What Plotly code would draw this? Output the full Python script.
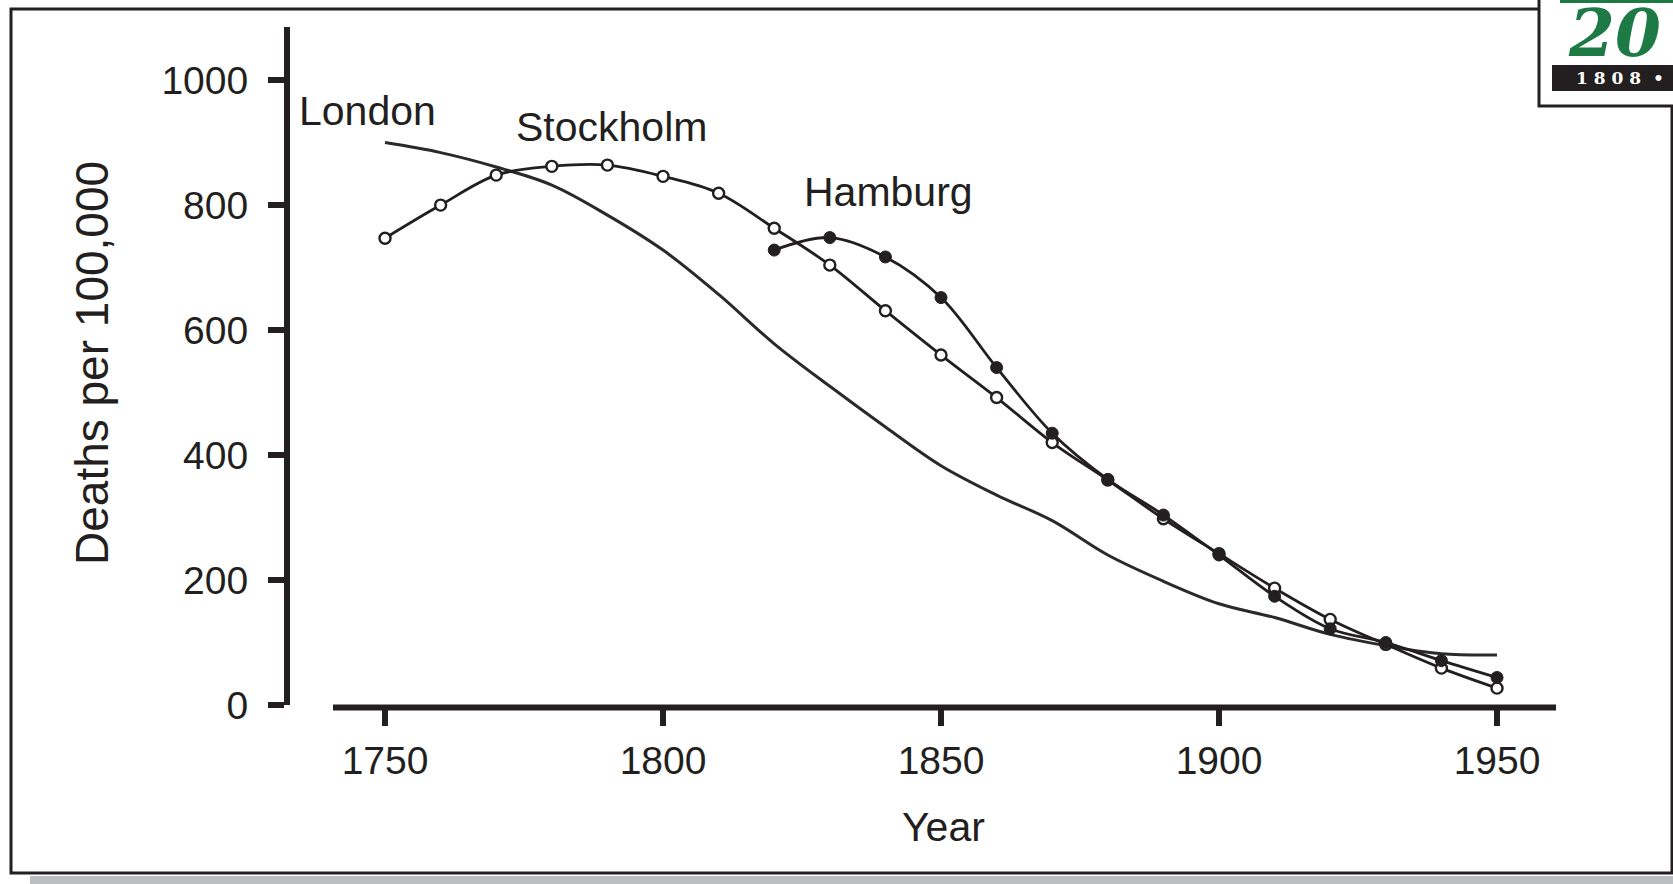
import plotly.graph_objects as go

# Decade series: deaths per 100,000
years = list(range(1750, 1960, 10))
london = [900, 884, 861, 832, 784, 728, 657, 578, 510, 445, 383,
          336, 295, 240, 198, 162, 140, 113, 95, 82, 80]
stockholm = [747, 800, 848, 862, 864, 846, 819, 763, 704, 631, 560,
             492, 420, 360, 298, 242, 187, 137, 97, 59, 27]
hamburg_years = list(range(1820, 1960, 10))
hamburg = [728, 748, 717, 652, 540, 435, 361, 304, 240, 174, 122, 100, 71, 44]

x_ticks = [1750, 1800, 1850, 1900, 1950]
y_ticks = [0, 200, 400, 600, 800, 1000]

INK = "#231f20"
FONT = "Liberation Sans, Arial, Helvetica, sans-serif"

W_PX, H_PX = 1673, 884
L, R, T, B = 290, 1556, 27, 705


def px_x(px):
    return (px - L) / (R - L)


def px_y(py):
    return (B - py) / (B - T)


fig = go.Figure()

fig.add_trace(go.Scatter(
    x=years, y=london, mode="lines",
    line=dict(color="#2a2a2a", width=3, shape="spline"),
    hoverinfo="skip",
))
fig.add_trace(go.Scatter(
    x=years, y=stockholm, mode="lines+markers",
    line=dict(color=INK, width=2.8, shape="spline"),
    marker=dict(symbol="circle", size=11, color="white",
                line=dict(color=INK, width=2.4)),
))
fig.add_trace(go.Scatter(
    x=hamburg_years, y=hamburg, mode="lines+markers",
    line=dict(color=INK, width=2.8, shape="spline"),
    marker=dict(symbol="circle", size=12, color=INK,
                line=dict(color=INK, width=1)),
))

label_font = dict(family=FONT, size=41, color=INK)

annotations = [
    dict(x=1746.8, y=950, xref="x", yref="y", text="London", showarrow=False,
         xanchor="center", yanchor="middle", font=label_font),
    dict(x=1790.8, y=925, xref="x", yref="y", text="Stockholm", showarrow=False,
         xanchor="center", yanchor="middle", font=label_font),
    dict(x=1840.5, y=821, xref="x", yref="y", text="Hamburg", showarrow=False,
         xanchor="center", yanchor="middle", font=label_font),
    # axis titles
    dict(x=px_x(92), y=px_y(363), xref="paper", yref="paper",
         xanchor="center", yanchor="middle",
         text="Deaths per 100,000", textangle=-90, showarrow=False,
         font=dict(family=FONT, size=46, color=INK)),
    dict(x=px_x(943), y=px_y(827), xref="paper", yref="paper",
         xanchor="center", yanchor="middle",
         text="Year", showarrow=False,
         font=dict(family=FONT, size=41, color=INK)),
    # corner emblem
    dict(x=px_x(1566), y=px_y(33), xref="paper", yref="paper",
         xanchor="left", yanchor="middle", text="<b><i>20</i></b>",
         showarrow=False,
         font=dict(family="DejaVu Serif, serif", size=66, color="#1d7a45")),
    dict(x=px_x(1574), y=px_y(78), xref="paper", yref="paper",
         xanchor="left", yanchor="middle",
         text="<b>1 8 0 8 &nbsp;•</b>",
         showarrow=False,
         font=dict(family="DejaVu Serif, serif", size=17, color="white")),
]

shapes = [
    # outer frame
    dict(type="rect", xref="paper", yref="paper",
         x0=px_x(11), x1=px_x(1672), y0=px_y(873), y1=px_y(9),
         line=dict(color=INK, width=3), fillcolor="rgba(0,0,0,0)"),
    # grey strip under the frame
    dict(type="rect", xref="paper", yref="paper",
         x0=px_x(30), x1=px_x(1680), y0=px_y(890), y1=px_y(876),
         line=dict(width=0), fillcolor="#bcbdc1"),
    # detached x axis line
    dict(type="line", xref="paper", yref="paper",
         x0=px_x(333), x1=px_x(1556), y0=px_y(707.5), y1=px_y(707.5),
         line=dict(color=INK, width=6)),
    # emblem box
    dict(type="rect", xref="paper", yref="paper",
         x0=px_x(1539), x1=px_x(1690), y0=px_y(106), y1=px_y(-10),
         line=dict(color=INK, width=3), fillcolor="white"),
    dict(type="rect", xref="paper", yref="paper",
         x0=px_x(1560), x1=px_x(1690), y0=px_y(3), y1=px_y(-5),
         line=dict(width=0), fillcolor="#1d7a45"),
    dict(type="rect", xref="paper", yref="paper",
         x0=px_x(1552), x1=px_x(1690), y0=px_y(91), y1=px_y(65),
         line=dict(width=0), fillcolor=INK),
]

fig.update_layout(
    width=W_PX, height=H_PX, autosize=False,
    margin=dict(l=L, r=W_PX - R, t=T, b=H_PX - B, pad=0),
    paper_bgcolor="white", plot_bgcolor="white",
    showlegend=False,
    annotations=annotations,
    shapes=shapes,
    xaxis=dict(
        range=[1732.91, 1960.61], tickvals=x_ticks,
        ticktext=[str(v) for v in x_ticks],
        ticks="outside", ticklen=20, tickwidth=6, tickcolor=INK,
        showline=False, showgrid=False, zeroline=False,
        tickfont=dict(family=FONT, size=39, color=INK),
        ticklabelstandoff=1,
    ),
    yaxis=dict(
        range=[0, 1085], tickvals=y_ticks,
        ticktext=[str(v) for v in y_ticks],
        ticks="outside", ticklen=16, tickwidth=6, tickcolor=INK,
        showline=True, linewidth=6, linecolor=INK,
        showgrid=False, zeroline=False,
        tickfont=dict(family=FONT, size=39, color=INK),
        ticklabelstandoff=12,
    ),
)

fig.write_html("out.html")
